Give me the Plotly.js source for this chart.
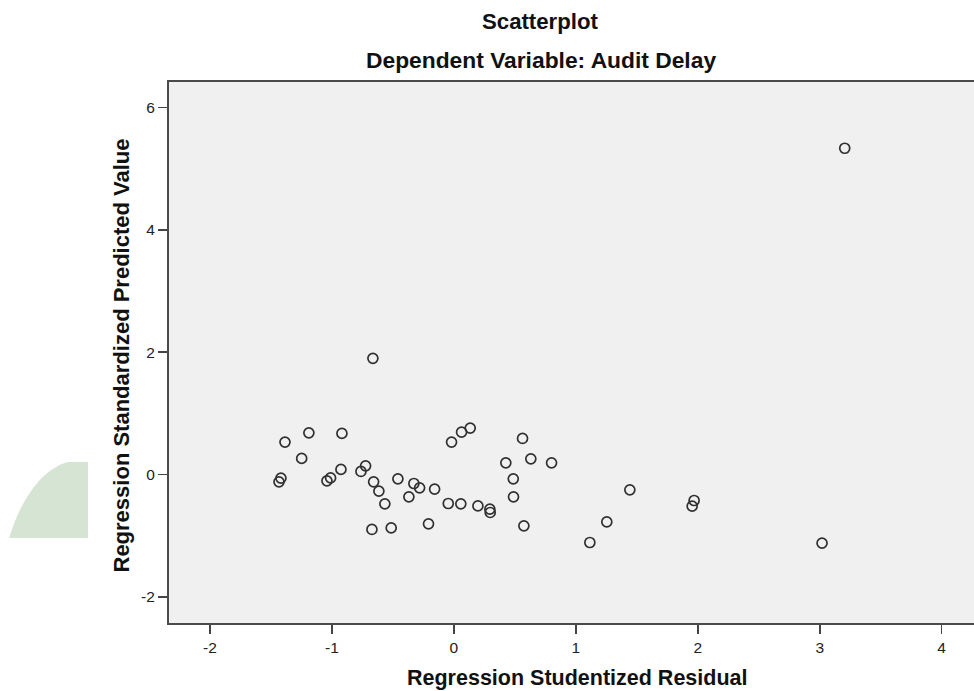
<!DOCTYPE html>
<html>
<head>
<meta charset="utf-8">
<script src="https://cdn.plot.ly/plotly-3.0.1.min.js"></script>
<style>
html, body { margin: 0; padding: 0; overflow: hidden; background: #ffffff; }
#chart { width: 984px; height: 691px; }
</style>
</head>
<body>
<div id="chart"></div>
<script>
// Regression Studentized Residual (x) and Regression Standardized Predicted Value (y)
var studentizedResidual = [
  -0.664, -1.385, -1.189, -0.918, -1.248, -1.418, -1.434, -1.041, -1.011, -0.926,
  -0.762, -0.724, -0.658, -0.615, -0.566, -0.672, -0.514, -0.459, -0.369, -0.328,
  -0.281, -0.208, -0.158, -0.046, -0.019, 0.057, 0.063, 0.134, 0.197, 0.295,
  0.298, 0.426, 0.487, 0.489, 0.563, 0.574, 0.631, 0.801, 1.115, 1.254,
  1.443, 1.970, 1.954, 3.019, 3.205
];
var standardizedPredicted = [
  1.900, 0.529, 0.681, 0.671, 0.262, -0.061, -0.121, -0.105, -0.056, 0.082,
  0.049, 0.141, -0.121, -0.273, -0.481, -0.900, -0.874, -0.072, -0.366, -0.148,
  -0.219, -0.808, -0.241, -0.475, 0.529, -0.481, 0.692, 0.758, -0.514, -0.568,
  -0.622, 0.190, -0.072, -0.366, 0.589, -0.841, 0.255, 0.190, -1.113, -0.776,
  -0.252, -0.426, -0.519, -1.124, 5.336
];
var xTickVals = [-2, -1, 0, 1, 2, 3, 4];
var yTickVals = [-2, 0, 2, 4, 6];

var chartTitle = "Scatterplot";
var chartSubtitle = "Dependent Variable: Audit Delay";
var xTitle = "Regression Studentized Residual";
var yTitle = "Regression Standardized Predicted Value";

var FONT = "Liberation Sans, Arial, Helvetica, sans-serif";

var trace = {
  type: "scatter",
  mode: "markers",
  x: studentizedResidual,
  y: standardizedPredicted,
  marker: {
    symbol: "circle-open",
    size: 10,
    color: "#303030",
    line: { width: 1.7, color: "#303030" }
  },
  hoverinfo: "x+y"
};

var layout = {
  width: 984,
  height: 691,
  margin: { l: 169, r: 0, t: 82, b: 68 },
  paper_bgcolor: "#ffffff",
  plot_bgcolor: "#f0f0f0",
  showlegend: false,
  font: { family: FONT, size: 15, color: "#222222" },
  xaxis: {
    range: [-2.336, 4.347],
    tickmode: "array",
    tickvals: xTickVals,
    ticktext: xTickVals.map(String),
    ticks: "outside",
    ticklen: 9,
    tickwidth: 1.6,
    tickcolor: "#444444",
    showline: true,
    linecolor: "#4a4a4a",
    linewidth: 2,
    mirror: true,
    showgrid: false,
    zeroline: false,
    tickfont: { family: FONT, size: 15.5, color: "#222222" }
  },
  yaxis: {
    range: [-2.430, 6.420],
    tickmode: "array",
    tickvals: yTickVals,
    ticktext: yTickVals.map(String),
    ticks: "outside",
    ticklen: 9,
    tickwidth: 1.6,
    tickcolor: "#444444",
    showline: true,
    linecolor: "#4a4a4a",
    linewidth: 2,
    mirror: true,
    showgrid: false,
    zeroline: false,
    tickfont: { family: FONT, size: 15.5, color: "#222222" }
  },
  annotations: [
    { text: "<b>" + chartTitle + "</b>", xref: "paper", yref: "paper", x: 0.456, y: 1,
      xanchor: "center", yanchor: "middle", yshift: 61, showarrow: false,
      font: { family: FONT, size: 22.2, color: "#111111" } },
    { text: "<b>" + chartSubtitle + "</b>", xref: "paper", yref: "paper", x: 0.456, y: 1,
      xanchor: "center", yanchor: "middle", yshift: 22, showarrow: false,
      font: { family: FONT, size: 22.8, color: "#111111" } },
    { text: "<b>" + xTitle + "</b>", xref: "paper", yref: "paper", x: 0.5, y: 0,
      xanchor: "center", yanchor: "middle", yshift: -55, showarrow: false,
      font: { family: FONT, size: 21.5, color: "#111111" } },
    { text: "<b>" + yTitle + "</b>", xref: "paper", yref: "paper", x: 0, y: 0.5,
      xanchor: "center", yanchor: "middle", xshift: -48, yshift: -3, textangle: -90, showarrow: false,
      font: { family: FONT, size: 22, color: "#111111" } }
  ],
  shapes: [
    { type: "path", xref: "paper", yref: "paper", layer: "below",
      path: "M -0.0994,0.2976 L -0.1239,0.2976 C -0.1546,0.2865 -0.1828,0.2274 -0.196,0.1571 L -0.0994,0.1571 Z",
      fillcolor: "rgb(214,228,211)", line: { width: 0 } }
  ]
};

Plotly.newPlot("chart", [trace], layout, { displayModeBar: false, staticPlot: true });
</script>
</body>
</html>
